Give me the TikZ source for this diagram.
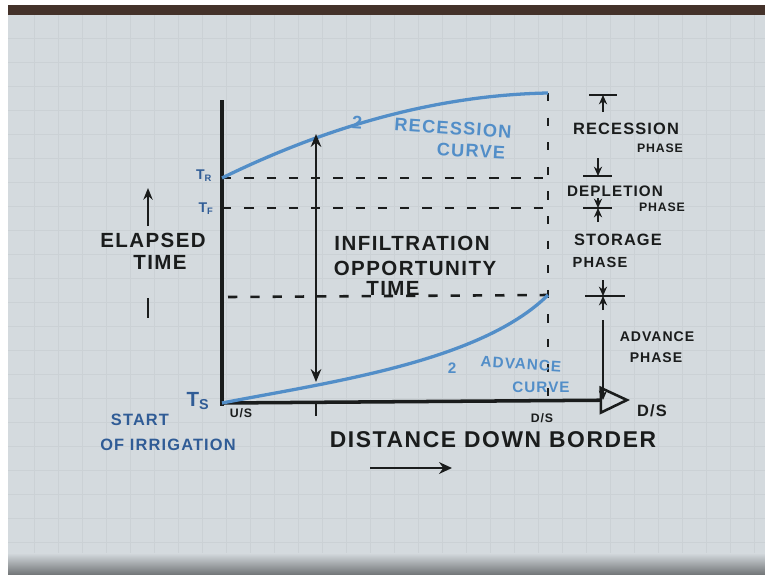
\documentclass[tikz,border=0pt]{standalone}
\usepackage{fontspec}
\newfontfamily\hand[LetterSpace=7]{Liberation Sans}
\usetikzlibrary{arrows.meta}
\usepackage{xcolor}
\definecolor{paper}{RGB}{212,218,222}
\definecolor{ink}{RGB}{26,28,28}
\definecolor{curveblue}{RGB}{82,142,200}
\definecolor{blueink}{RGB}{48,92,150}
\definecolor{bandbrown}{RGB}{68,50,42}

\begin{document}
\begin{tikzpicture}[
    x=0.03cm, y=-0.03cm,
    handtext/.style={font=\hand\bfseries\fontsize{17.5}{19}\selectfont, text=ink, inner sep=0pt},
    bigtext/.style={font=\hand\bfseries\fontsize{19.5}{22}\selectfont, text=ink, inner sep=0pt},
    phasetext/.style={font=\hand\bfseries\fontsize{14}{16}\selectfont, text=ink, inner sep=0pt},
    smalltext/.style={font=\hand\bfseries\fontsize{10.5}{12}\selectfont, text=ink, inner sep=0pt},
    bluetext/.style={font=\hand\bfseries\fontsize{15.5}{17}\selectfont, text=curveblue, inner sep=0pt},
    startext/.style={font=\hand\bfseries\fontsize{14}{16}\selectfont, text=blueink, inner sep=0pt},
    axisline/.style={ink, line width=3pt},
    guideline/.style={ink, line width=2.2pt, dash pattern=on 8pt off 11pt},
    curveline/.style={curveblue, line width=2.8pt},
    markarrow/.style={ink, line width=1.6pt, -{Stealth[length=8pt,width=7pt]}},
    markbar/.style={ink, line width=1.8pt},
    gridline/.style={paper!96!black, line width=0.4pt}
]
  \useasboundingbox (0,0) rectangle (765,580);
  % Paper
  \fill[white] (0,0) rectangle (765,580);
  \fill[paper] (8,14) rectangle (765,553);
  \fill[bandbrown] (8,5) rectangle (765,15);
  \shade[top color=paper, bottom color=paper!55!black] (8,553) rectangle (765,574);
  \foreach \gx in {34,58,...,760} \draw[gridline] (\gx,15) -- (\gx,553);
  \foreach \gy in {38,62,...,550} \draw[gridline] (8,\gy) -- (765,\gy);

  % Coordinates
  \coordinate (origin) at (222,403);
  \coordinate (ytop) at (222,100);
  \coordinate (xend) at (630,400);
  \coordinate (recstart) at (222,178);
  \coordinate (recend) at (548,93);
  \coordinate (advend) at (548,295);
  \coordinate (iotop) at (316,134);
  \coordinate (iobot) at (316,382);

  % Guide lines
  \draw[guideline] (recstart) -- (548,178);
  \draw[guideline] (222,208) -- (548,208);
  \draw[guideline] (228,297) -- (advend);
  \draw[guideline, dash pattern=on 7pt off 14pt] (recend) -- (548,400);

  % Axes
  \draw[axisline] (ytop) -- (222,406);
  \draw[axisline, -{Triangle[open, length=26pt, width=24pt, line width=2.2pt]}] (origin) -- (xend);
  \draw[axisline, line width=2.4pt] (316,403) -- (316,416);

  % Curves
  \draw[curveline] (recstart) .. controls (330,125) and (440,95) .. (recend);
  \draw[curveline] (origin) .. controls (330,382) and (480,362) .. (advend);

  % Infiltration opportunity time
  \draw[ink, line width=2.2pt, {Stealth[length=11pt,width=9pt]}-{Stealth[length=11pt,width=9pt]}] (iotop) -- (iobot);
  \node (infil) [handtext] at (412,243) {INFILTRATION};
  \node (oppor) [handtext] at (415,268) {OPPORTUNITY};
  \node (iotime) [handtext] at (393,288) {TIME};

  % Curve labels
  \node (rectwo) [bluetext, rotate=-4] at (357,123) {2};
  \node (reclabel) [bluetext, rotate=-4] at (453,128) {RECESSION};
  \node (reccurve) [bluetext, rotate=-3] at (471,151) {CURVE};
  \node (advtwo) [bluetext, font=\hand\bfseries\fontsize{13}{15}\selectfont] at (452,368) {2};
  \node (advlabel) [bluetext, font=\hand\bfseries\fontsize{13}{15}\selectfont, rotate=-4] at (521,364) {ADVANCE};
  \node (advcurve) [bluetext, font=\hand\bfseries\fontsize{13}{15}\selectfont] at (541,387) {CURVE};

  % Time axis labels
  \node (tr) [startext, font=\hand\bfseries\fontsize{12}{13}\selectfont] at (204,176) {T\textsubscript{R}};
  \node (tf) [startext, font=\hand\bfseries\fontsize{12}{13}\selectfont] at (206,209) {T\textsubscript{F}};
  \node (ts) [handtext, text=blueink] at (198,401) {T\textsubscript{S}};
  \node (us) [smalltext] at (241,413) {U/S};
  \node (ds) [smalltext] at (542,418) {D/S};
  \node (dsend) [phasetext] at (652,411) {D/S};

  \node (elapsed) [handtext] at (153,240) {ELAPSED};
  \node (eltime) [handtext] at (160,262) {TIME};
  \coordinate (elup) at (148,188);
  \coordinate (elupfoot) at (148,226);
  \draw[ink, line width=2.2pt, -{Stealth[length=10pt,width=8pt]}] (elupfoot) -- (elup);
  \draw[ink, line width=2.2pt] (148,298) -- (148,318);

  \node (start) [startext] at (140,420) {START};
  \node (irrig) [startext] at (168,445) {OF IRRIGATION};

  \node (distance) [bigtext] at (493,440) {DISTANCE DOWN BORDER};
  \coordinate (dsa) at (370,468);
  \coordinate (dsb) at (452,468);
  \draw[ink, line width=2.2pt, -{Stealth[length=11pt,width=10pt]}] (dsa) -- (dsb);

  % Phase markers
  \draw[markbar] (589,95) -- (617,95);
  \draw[markarrow] (603,112) -- (603,95);
  \node (recphase) [phasetext] at (626,129) {RECESSION};
  \node (recphase2) [smalltext] at (660,148) {PHASE};
  \draw[markbar] (583,176) -- (612,176);
  \draw[markarrow] (598,158) -- (598,176);
  \node (depphase) [phasetext, font=\hand\bfseries\fontsize{13}{15}\selectfont] at (615,191) {DEPLETION};
  \node (depphase2) [smalltext] at (662,207) {PHASE};
  \draw[markbar] (583,208) -- (612,208);
  \draw[markarrow] (598,198) -- (598,208);
  \draw[markarrow] (598,222) -- (598,208);
  \node (stophase) [phasetext] at (618,240) {STORAGE};
  \node (stophase2) [phasetext, font=\hand\bfseries\fontsize{12.5}{14}\selectfont] at (600,262) {PHASE};
  \draw[markbar] (585,296) -- (625,296);
  \draw[markarrow] (603,280) -- (603,296);
  \draw[markarrow] (603,310) -- (603,296);
  \draw[markarrow] (603,320) -- (603,400);
  \node (advphase) [phasetext, font=\hand\bfseries\fontsize{12}{14}\selectfont] at (657,337) {ADVANCE};
  \node (advphase2) [phasetext, font=\hand\bfseries\fontsize{12}{14}\selectfont] at (656,358) {PHASE};
\end{tikzpicture}
\end{document}
